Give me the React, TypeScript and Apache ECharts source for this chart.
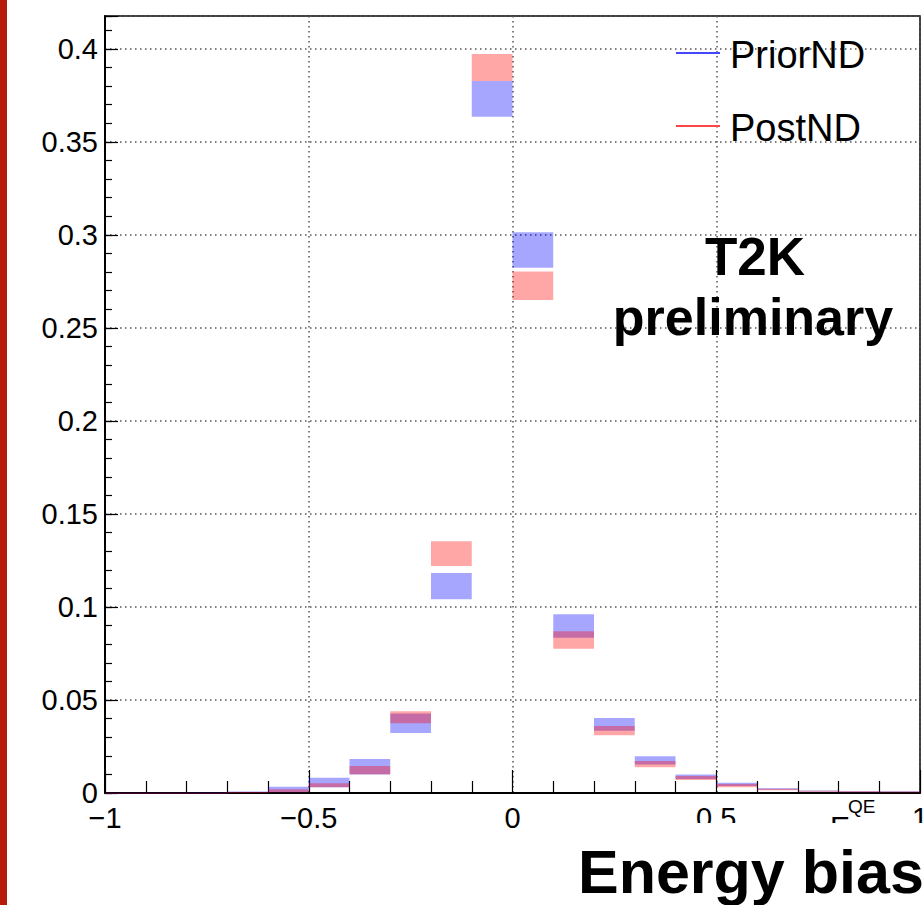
import React, { useEffect, useRef } from "react";
import * as echarts from "echarts";

// Bin lower edges (bin width 0.1)
const BIN_LOW = [-1, -0.9, -0.8, -0.7, -0.6, -0.5, -0.4, -0.3, -0.2, -0.1, 0, 0.1, 0.2, 0.3, 0.4, 0.5, 0.6, 0.7, 0.8, 0.9];
const BIN_WIDTH = 0.1;
// PriorND band (low, high)
const PRIOR_LO = [0, 0, 0.0001, 0.0003, 0.0004, 0.0031, 0.0099, 0.0322, 0.1042, 0.3635, 0.2824, 0.0834, 0.0335, 0.0153, 0.0075, 0.0038, 0.0017, 0.0008, 0.0005, 0.0004];
const PRIOR_HI = [0.0001, 0.0001, 0.0003, 0.0008, 0.0034, 0.0082, 0.0183, 0.0428, 0.1183, 0.3828, 0.3014, 0.0961, 0.0403, 0.0197, 0.0100, 0.0055, 0.0025, 0.0014, 0.0010, 0.0009];
// PostND band (low, high)
const POST_LO = [0, 0, 0.0001, 0.0002, 0.0004, 0.0031, 0.0101, 0.0375, 0.1220, 0.3828, 0.2650, 0.0776, 0.0310, 0.0138, 0.0070, 0.0031, 0.0015, 0.0007, 0.0004, 0.0003];
const POST_HI = [0.0001, 0.0001, 0.0002, 0.0005, 0.0020, 0.0052, 0.0145, 0.0440, 0.1353, 0.3973, 0.2804, 0.0870, 0.0360, 0.0172, 0.0091, 0.0048, 0.0023, 0.0012, 0.0009, 0.0008];

const X_MIN = -1;
const X_MAX = 1;
const Y_MIN = 0;
const Y_MAX = 0.4177;
const LEGEND = ["PriorND", "PostND"];

const FONT = "'Liberation Sans', Arial, Helvetica, sans-serif";

function bandData(lo: number[], hi: number[]) {
  return BIN_LOW.map((x, i) => [x, x + BIN_WIDTH, lo[i], hi[i]]);
}

function makeRender(color: string) {
  return (params: any, api: any) => {
    const x0 = api.value(0);
    const x1 = api.value(1);
    const lo = api.value(2);
    const hi = api.value(3);
    const p0 = api.coord([x0, hi]);
    const p1 = api.coord([x1, lo]);
    const h = Math.max(p1[1] - p0[1], 1);
    return {
      type: "rect",
      shape: { x: p0[0], y: p0[1], width: p1[0] - p0[0], height: h },
      style: { fill: color },
    };
  };
}

export default function App() {
  const ref = useRef<HTMLDivElement>(null);
  useEffect(() => {
    if (!ref.current) return;
    const chart = echarts.init(ref.current, undefined, { renderer: "svg" });
    const grid = { left: 105, top: 16, width: 815, height: 777 };
    const dotted = { color: "#555", width: 1.5, type: [1.5, 3.5] as any };
    const option: any = {
      animation: false,
      backgroundColor: "#fff",
      grid: {
        ...grid,
        containLabel: false,
        outerBoundsMode: "none",
        show: true,
        borderColor: "#000",
        borderWidth: 1.5,
        backgroundColor: "transparent",
      },
      xAxis: {
        type: "value",
        min: X_MIN,
        max: X_MAX,
        interval: 0.5,
        axisLine: { show: true, onZero: false, lineStyle: { color: "#000", width: 2 } },
        axisTick: { show: true, inside: true, length: 23, lineStyle: { color: "#000", width: 1.2 } },
        minorTick: { show: true, splitNumber: 5, length: 12, lineStyle: { color: "#000", width: 1.2 } },
        splitLine: { show: true, lineStyle: dotted },
        axisLabel: {
          show: true,
          color: "#000",
          fontFamily: FONT,
          fontSize: 29,
          margin: 10,
          hideOverlap: false,
          formatter: (v: number) => String(Math.round(v * 100) / 100).replace("-", "\u2212"),
        },
      },
      yAxis: [
        {
          type: "value",
          min: Y_MIN,
          max: Y_MAX,
          interval: 0.05,
          axisLine: { show: true, onZero: false, lineStyle: { color: "#000", width: 2 } },
          axisTick: { show: true, inside: true, length: 13, lineStyle: { color: "#000", width: 1.2 } },
          splitLine: { show: true, lineStyle: dotted },
          axisLabel: {
            show: true,
            color: "#000",
            fontFamily: FONT,
            fontSize: 29,
            margin: 7,
            formatter: (v: number) => {
              const k = v / 0.05;
              if (Math.abs(k - Math.round(k)) > 1e-6) return "";
              return String(Math.round(v * 100) / 100);
            },
          },
        },
        {
          type: "value",
          min: Y_MIN,
          max: Y_MAX,
          interval: 0.01,
          position: "left",
          axisLine: { show: false, onZero: false },
          axisTick: { show: true, inside: true, length: 7, lineStyle: { color: "#000", width: 1.2 } },
          splitLine: { show: false },
          axisLabel: { show: false },
        },
      ],
      series: [
        {
          name: LEGEND[0],
          type: "custom",
          renderItem: makeRender("rgba(0,0,255,0.35)"),
          data: bandData(PRIOR_LO, PRIOR_HI),
          encode: { x: [0, 1], y: [2, 3] },
          z: 3,
        },
        {
          name: LEGEND[1],
          type: "custom",
          renderItem: makeRender("rgba(255,0,0,0.35)"),
          data: bandData(POST_LO, POST_HI),
          encode: { x: [0, 1], y: [2, 3] },
          z: 4,
        },
      ],
      graphic: [
        // left red border strip
        { type: "rect", z: 100, shape: { x: 0, y: 0, width: 7, height: 905 }, style: { fill: "#b51a0a" } },
        // legend
        { type: "line", z: 100, shape: { x1: 676, y1: 53, x2: 720, y2: 53 }, style: { stroke: "#4646ff", lineWidth: 2 } },
        { type: "text", z: 100, style: { text: LEGEND[0], x: 730, y: 55, font: `38px ${FONT}`, fill: "#000", verticalAlign: "middle" } },
        { type: "line", z: 100, shape: { x1: 676, y1: 126, x2: 720, y2: 126 }, style: { stroke: "#ff4646", lineWidth: 2 } },
        { type: "text", z: 100, style: { text: LEGEND[1], x: 730, y: 128, font: `38px ${FONT}`, fill: "#000", verticalAlign: "middle" } },
        // T2K preliminary
        { type: "text", z: 100, style: { text: "T2K", x: 755, y: 256, font: `bold 53px ${FONT}`, fill: "#000", align: "center", verticalAlign: "middle" } },
        { type: "text", z: 100, style: { text: "preliminary", x: 753, y: 317, font: `bold 52px ${FONT}`, fill: "#000", align: "center", verticalAlign: "middle" } },
        // partially hidden axis title
        { type: "text", z: 100, style: { text: "E", x: 830, y: 826, font: `30px ${FONT}`, fill: "#000", verticalAlign: "middle" } },
        { type: "text", z: 100, style: { text: "QE", x: 848, y: 806, font: `19px ${FONT}`, fill: "#000", verticalAlign: "middle" } },
        // white cover box with big label
        { type: "rect", z: 110, shape: { x: 560, y: 823, width: 363, height: 82 }, style: { fill: "#fff" } },
        { type: "text", z: 111, style: { text: "Energy bias", x: 578, y: 872, font: `bold 61px ${FONT}`, fill: "#000", verticalAlign: "middle" } },
      ],
    };
    chart.setOption(option);
    return () => chart.dispose();
  }, []);
  return (
    <div
      ref={ref}
      style={{ position: "absolute", left: 0, top: 0, width: 923, height: 905, background: "#fff" }}
    />
  );
}
